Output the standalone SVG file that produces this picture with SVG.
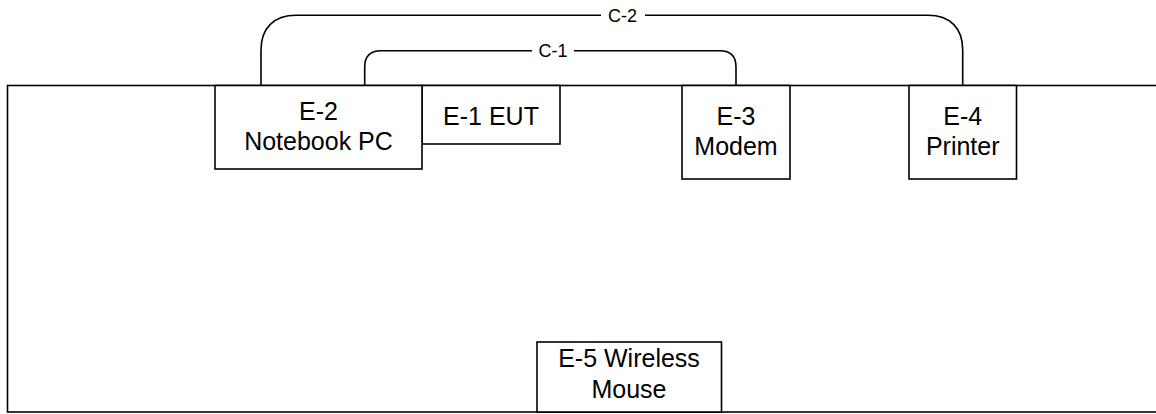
<svg xmlns="http://www.w3.org/2000/svg" width="1156" height="414" viewBox="0 0 1156 414">
<style>
.box{fill:#fff;stroke:#000;stroke-width:1.6}
.frame{fill:#fff;stroke:#000;stroke-width:1.6}
.t{font-family:"Liberation Sans",Arial,sans-serif;font-size:25px;fill:#000;text-anchor:middle}
.lbl{font-family:"Liberation Sans",Arial,sans-serif;font-size:18px;fill:#000;text-anchor:middle}
.cable{fill:none;stroke:#000;stroke-width:1.6}
</style>
<rect width="1156" height="414" fill="#fff"/>
<rect id="frame" class="frame" x="7.5" y="85.5" width="1160" height="326.5"/>
<g id="connectors">
  <path class="cable" d="M364.7,86 V67 C364.7,56 370,50.7 381,50.7 H720 C731,50.7 736,56 736,67 V86"/>
  <rect x="532" y="41" width="42" height="18" fill="#fff"/>
  <text class="lbl" x="553" y="57">C-1</text>
  <path class="cable" d="M261,86 V50 C261,28 274,15.3 296,15.3 H928 C950,15.3 962.7,28 962.7,50 V86"/>
  <rect x="601" y="5" width="44" height="19" fill="#fff"/>
  <text class="lbl" x="622.5" y="21.5">C-2</text>
</g>
<g id="E-1">
  <rect class="box" x="422" y="85.5" width="138" height="58.5"/>
  <text class="t" x="491" y="125">E-1 EUT</text>
</g>
<g id="E-2">
  <rect class="box" x="215" y="85.5" width="207" height="83.5"/>
  <text class="t" x="318.5" y="120">E-2</text>
  <text class="t" x="318.5" y="150">Notebook PC</text>
</g>
<g id="E-3">
  <rect class="box" x="682" y="85.5" width="108" height="93.5"/>
  <text class="t" x="736" y="125">E-3</text>
  <text class="t" x="736" y="155">Modem</text>
</g>
<g id="E-4">
  <rect class="box" x="909" y="85.5" width="107.5" height="93.5"/>
  <text class="t" x="962.7" y="125">E-4</text>
  <text class="t" x="962.7" y="155">Printer</text>
</g>
<g id="E-5">
  <rect class="box" x="537" y="342" width="184.5" height="70"/>
  <text class="t" x="629" y="367">E-5 Wireless</text>
  <text class="t" x="629" y="398">Mouse</text>
</g>
</svg>
